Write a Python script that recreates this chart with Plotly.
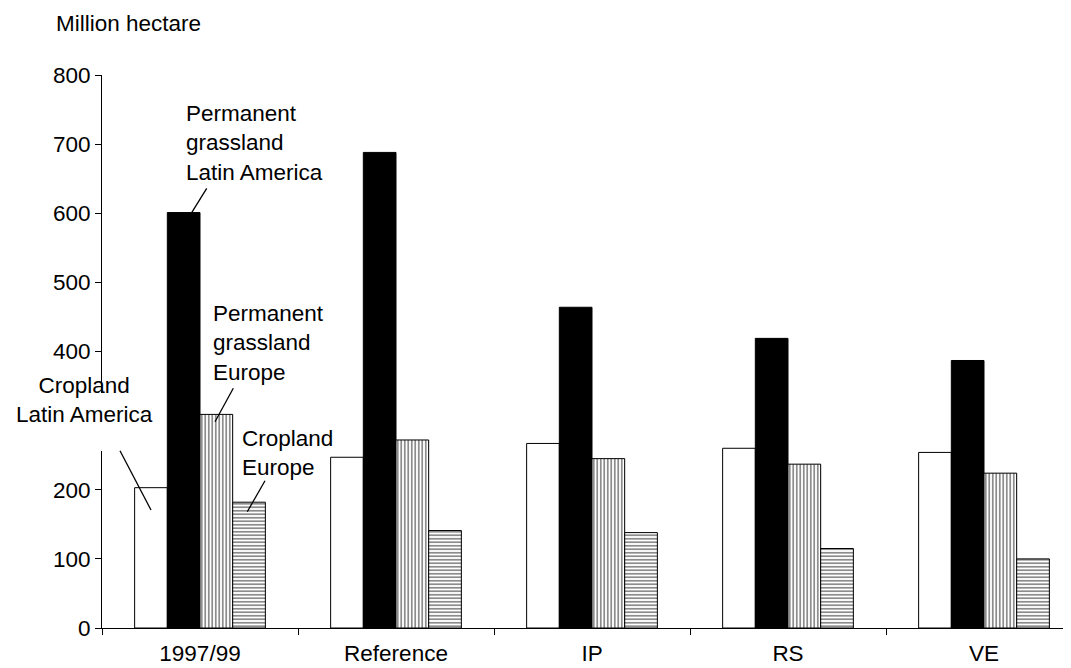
import plotly.graph_objects as go

categories = ["1997/99", "Reference", "IP", "RS", "VE"]
cropland_latin_america = [203, 247, 267, 260, 254]
grassland_latin_america = [601, 688, 464, 419, 387]
grassland_europe = [309, 272, 245, 237, 224]
cropland_europe = [182, 141, 138, 115, 100]
# the 300 label is hidden behind the "Cropland Latin America" label box in the original
y_ticks = [0, 100, 200, 400, 500, 600, 700, 800]

# page body has an 8px margin; work in screen pixels and convert
OFF = 8
SCREEN_W, SCREEN_H = 1071, 668
W, H = SCREEN_W - OFF, SCREEN_H - OFF
PLOT_LEFT, PLOT_TOP, PLOT_BOTTOM = 102, 75, 628   # screen px
ML = PLOT_LEFT - OFF
MT = PLOT_TOP - OFF
MB = H - (PLOT_BOTTOM - OFF)
MR = 0
PW = W - ML - MR
PH = H - MT - MB
CAT_PX = 196.0
X_RANGE = [-0.5, -0.5 + PW / CAT_PX]
Y_RANGE = [0, 800]

def PX(px):
    return (px - PLOT_LEFT) / PW

def PY(py):
    return (PLOT_BOTTOM - py) / PH

FONT = dict(family="Liberation Sans, Arial, sans-serif", size=22.5, color="black")
outline = dict(color="black", width=1)

fig = go.Figure()
fig.add_trace(go.Bar(x=categories, y=cropland_latin_america, name="Cropland Latin America",
                     marker=dict(color="white", line=outline)))
fig.add_trace(go.Bar(x=categories, y=grassland_latin_america, name="Permanent grassland Latin America",
                     marker=dict(color="black", line=outline)))
fig.add_trace(go.Bar(x=categories, y=grassland_europe, name="Permanent grassland Europe",
                     marker=dict(color="white", line=outline,
                                 pattern=dict(shape="|", fgcolor="black", bgcolor="white",
                                              size=3.5, solidity=0.45))))
fig.add_trace(go.Bar(x=categories, y=cropland_europe, name="Cropland Europe",
                     marker=dict(color="white", line=outline,
                                 pattern=dict(shape="-", fgcolor="black", bgcolor="white",
                                              size=3.5, solidity=0.45))))

shapes = [
    # white label box that hides part of the y axis
    dict(type="rect", xref="paper", yref="paper", x0=PX(2), x1=PX(162), y0=PY(451), y1=PY(393),
         fillcolor="white", line=dict(width=0), layer="above"),
]
leaders = [
    ((206.7, 188.3), (191.7, 212.7)),
    ((233.3, 388.3), (215.0, 421.7)),
    ((265.0, 480.7), (247.3, 511.7)),
    ((120.0, 450.7), (151.0, 510.0)),
]
for (a, b) in leaders:
    shapes.append(dict(type="line", xref="paper", yref="paper",
                       x0=PX(a[0]), y0=PY(a[1]), x1=PX(b[0]), y1=PY(b[1]),
                       line=dict(color="black", width=1.3), layer="above"))

annotations = [
    dict(text="Million hectare", x=PX(54), y=PY(24),
         xanchor="left", yanchor="middle"),
    dict(text="Permanent<br>grassland<br>Latin America", x=PX(184), y=PY(143),
         xanchor="left", yanchor="middle", align="left"),
    dict(text="Permanent<br>grassland<br>Europe", x=PX(211), y=PY(343),
         xanchor="left", yanchor="middle", align="left"),
    dict(text="Cropland<br>Europe", x=PX(240), y=PY(453),
         xanchor="left", yanchor="middle", align="left"),
    dict(text="Cropland<br>Latin America", x=PX(84.5), y=PY(399.5),
         xanchor="center", yanchor="middle", align="center"),
]
for a in annotations:
    a.update(xref="paper", yref="paper", showarrow=False, font=FONT)

fig.update_layout(
    width=W, height=H,
    margin=dict(l=ML, r=MR, t=MT, b=MB, pad=0, autoexpand=False),
    paper_bgcolor="white", plot_bgcolor="white",
    barmode="group", bargap=0.333, bargroupgap=0,
    showlegend=False,
    font=FONT,
    shapes=shapes,
    annotations=annotations,
)
fig.update_xaxes(range=X_RANGE, showline=True, linecolor="black", linewidth=1,
                 ticks="outside", tickson="boundaries", ticklen=6, tickcolor="black",
                 ticklabelstandoff=5,
                 showgrid=False, zeroline=False, tickfont=FONT)
fig.update_yaxes(range=Y_RANGE, tickvals=y_ticks, showline=True, linecolor="black", linewidth=1,
                 ticks="outside", ticklen=6, tickcolor="black",
                 showgrid=False, zeroline=False, tickfont=FONT)

fig.write_html("out.html")
